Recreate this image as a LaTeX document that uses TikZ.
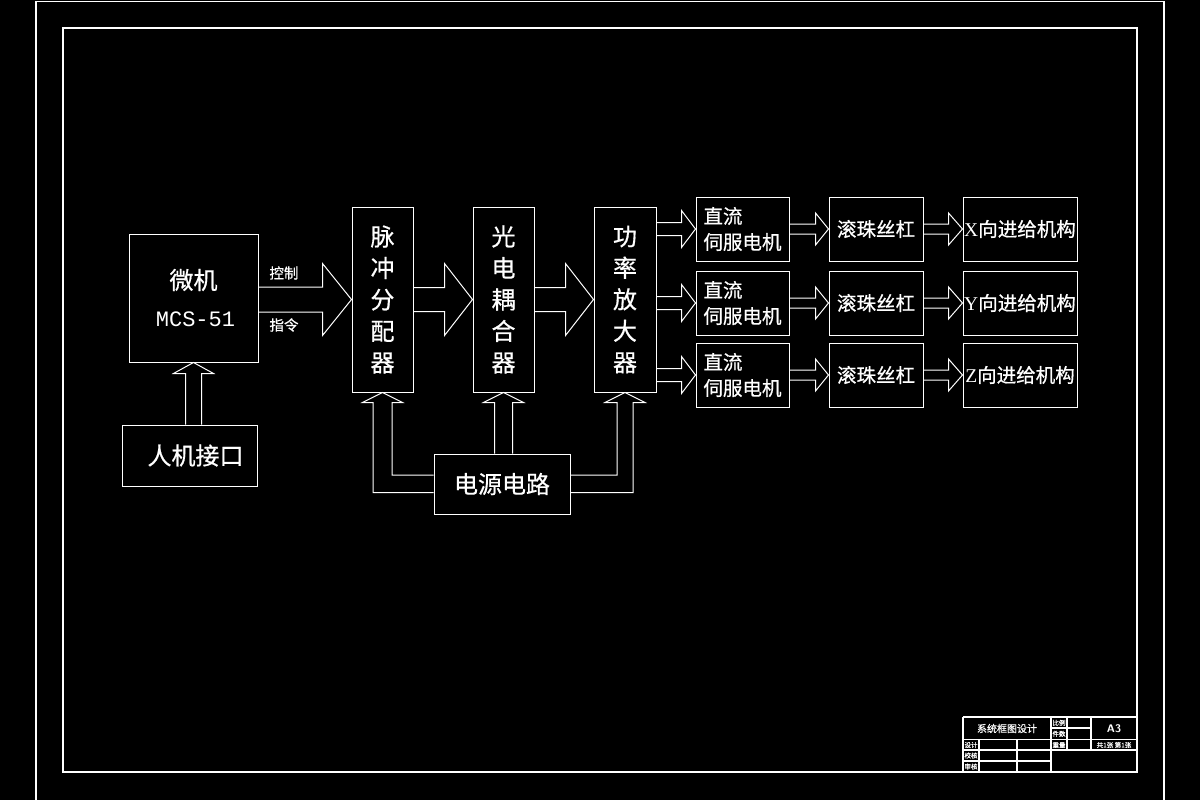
\documentclass[tikz,border=0pt]{standalone}
\usepackage{fontspec}
\setmainfont{Liberation Serif}
\newfontfamily\cjk[FakeBold=0.6]{Noto Sans CJK SC}
\newfontfamily\monof{Liberation Mono}
\usetikzlibrary{calc}
\tikzset{
  box/.style={draw=white, line width=1pt, inner sep=0pt, text=white},
  arr/.style={draw=white, line width=1pt, line join=miter},
  tb/.style={draw=white, line width=1.3pt},
  tbt/.style={text=white, inner sep=0pt, font=\cjk\fontsize{6.5}{7}\selectfont},
}
% horizontal fat arrow: from node #1 to node #2, shaft half #3, head half #4, head length #5
\newcommand\hfat[5]{\draw[arr] ($(#1.east |- #2.west)+(0,-#3)$) -- ($(#2.west)+(-#5,-#3)$) -- ($(#2.west)+(-#5,-#4)$) -- (#2.west) -- ($(#2.west)+(-#5,#4)$) -- ($(#2.west)+(-#5,#3)$) -- ($(#1.east |- #2.west)+(0,#3)$);}
% vertical fat arrow upward from node #1 to node #2
\newcommand\vfat[5]{\draw[arr] ($(#2.south |- #1.north)+(-#3,0)$) -- ($(#2.south)+(-#3,#5)$) -- ($(#2.south)+(-#4,#5)$) -- (#2.south) -- ($(#2.south)+(#4,#5)$) -- ($(#2.south)+(#3,#5)$) -- ($(#2.south |- #1.north)+(#3,0)$);}
\begin{document}
\begin{tikzpicture}[x=1pt,y=-1pt]
\fill[black] (0,0) rectangle (1200,800);
\useasboundingbox (0,0) rectangle (1200,800);
% frames
\draw[white, line width=1.2pt] (36,1.3) rectangle (1164,803);
\draw[white, line width=2pt] (62.5,28) rectangle (1137,772);

% main boxes
\node[box, minimum width=129pt, minimum height=128pt, align=center] (wj) at (193.5,298)
  {{\cjk\fontsize{24}{24}\selectfont 微机}\\[20pt]{\monof\fontsize{22}{22}\selectfont\hspace{4pt}MCS-51}};
\node[box, minimum width=135pt, minimum height=61pt, font=\cjk\fontsize{24}{24}\selectfont] (rj) at (189.5,455.5) {\hspace{12pt}人机接口};
\node[box, minimum width=61pt, minimum height=185pt, align=center, font=\cjk\fontsize{24}{31.5}\selectfont] (mc) at (382.5,299.5) {脉\\冲\\分\\配\\器};
\node[box, minimum width=61pt, minimum height=185pt, align=center, font=\cjk\fontsize{24}{31.5}\selectfont] (gd) at (503.5,299.5) {光\\电\\耦\\合\\器};
\node[box, minimum width=62pt, minimum height=185pt, align=center, font=\cjk\fontsize{24}{31.5}\selectfont] (gl) at (625,299.5) {功\\率\\放\\大\\器};
\node[box, minimum width=136pt, minimum height=60pt, font=\cjk\fontsize{24}{24}\selectfont] (dy) at (502,484) {电源电路};

\foreach \r/\y/\a in {1/229/X,2/303/Y,3/375/Z}{
  \node[box, minimum width=93pt, minimum height=64pt, align=left, font=\cjk\fontsize{19.5}{26}\selectfont] (zl\r) at (742.5,\y) {直流\\伺服电机};
  \node[box, minimum width=94pt, minimum height=64pt, font=\cjk\fontsize{19.5}{20}\selectfont] (gz\r) at (876,\y) {滚珠丝杠};
  \node[box, minimum width=114pt, minimum height=64pt, font=\cjk\fontsize{19.5}{20}\selectfont] (jg\r) at (1020,\y) {{\rmfamily\a}向进给机构};
}

% labels on first arrow
\node[text=white, inner sep=0pt, font=\cjk\fontsize{14.5}{15}\selectfont] (kz) at (284,273) {控制};
\node[text=white, inner sep=0pt, font=\cjk\fontsize{14.5}{15}\selectfont] (zc) at (284,325) {指令};

% fat arrows
\hfat{wj}{mc}{12.5}{36}{29}
\hfat{mc}{gd}{12}{36}{28}
\hfat{gd}{gl}{12}{36}{28}
\foreach \r in {1,2,3}{
  \hfat{gl}{zl\r}{6.5}{18.5}{14}
  \hfat{zl\r}{gz\r}{5}{16}{13}
  \hfat{gz\r}{jg\r}{5}{16}{14}
}
\vfat{rj}{wj}{8}{20}{11}
\vfat{dy}{gd}{9}{20}{10}
% elbow arrows from power supply
\draw[arr] ($(dy.west)+(0,-9)$) -- ($(mc.south |- dy.west)+(9.5,-9)$) -- ($(mc.south)+(9.5,10)$) -- ($(mc.south)+(20,10)$) -- (mc.south) -- ($(mc.south)+(-20,10)$) -- ($(mc.south)+(-9.5,10)$) -- ($(mc.south |- dy.west)+(-9.5,8.5)$) -- ($(dy.west)+(0,8.5)$);
\draw[arr] ($(dy.east)+(0,-9)$) -- ($(gl.south |- dy.east)+(-8,-9)$) -- ($(gl.south)+(-8,10)$) -- ($(gl.south)+(-20,10)$) -- (gl.south) -- ($(gl.south)+(20,10)$) -- ($(gl.south)+(8,10)$) -- ($(gl.south |- dy.east)+(8,8.5)$) -- ($(dy.east)+(0,8.5)$);

% title block
\draw[tb] (963,717) -- (1137,717);
\draw[tb] (963,717) -- (963,772);
\draw[tb] (963,739.5) -- (1137,739.5);
\draw[tb] (963,750) -- (1137,750);
\draw[tb] (963,761) -- (1051,761);
\draw[tb] (1051,728) -- (1091,728);
\draw[tb] (979,739.5) -- (979,772);
\draw[tb] (1017,739.5) -- (1017,772);
\draw[tb] (1051,717) -- (1051,772);
\draw[tb] (1067,717) -- (1067,750);
\draw[tb] (1091,717) -- (1091,750);
\node[tbt, font=\cjk\fontsize{10}{10}\selectfont] (tt) at (1007,728.5) {系统框图设计};
\node[tbt] (t1) at (971,745) {设计};
\node[tbt] (t2) at (971,755.5) {校核};
\node[tbt] (t3) at (971,766.5) {审核};
\node[tbt] (t4) at (1059,722.8) {比例};
\node[tbt] (t5) at (1059,733.8) {件数};
\node[tbt] (t6) at (1059,745) {重量};
\node[tbt, font=\sffamily\bfseries\fontsize{11}{11}\selectfont] (t7) at (1114,728.5) {A3};
\node[tbt, font=\cjk\fontsize{6.5}{7}\selectfont] (t8) at (1114,745) {共1张 第1张};
\end{tikzpicture}
\end{document}
